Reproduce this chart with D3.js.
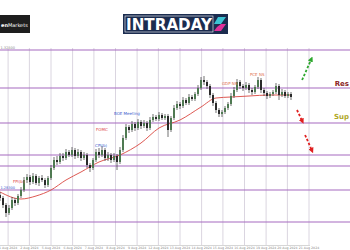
<!DOCTYPE html>
<html lang="en">
<head>
  <meta charset="UTF-8">
  <title>Intraday GBP/USD</title>
  <script src="https://d3js.org/d3.v7.min.js"></script>
  <style>
    html, body { margin: 0; padding: 0; background: #fff; }
    svg { display: block; font-family: "DejaVu Sans", sans-serif; }
  </style>
</head>
<body>
  <div id="chart"></div>

  <script>
    // candles: [open, high, low, close]
    const candles = [
      [1.2815,1.2824,1.2797,1.2806],[1.2806,1.2812,1.2776,1.2785],[1.2785,1.2791,1.2749,1.2761],[1.2761,1.2785,1.2755,1.2776],
      [1.2776,1.2809,1.2770,1.2800],[1.2800,1.2806,1.2782,1.2791],[1.2791,1.2818,1.2785,1.2812],[1.2812,1.2839,1.2806,1.2830],
      [1.2830,1.2869,1.2824,1.2860],[1.2860,1.2878,1.2851,1.2869],[1.2869,1.2875,1.2845,1.2854],[1.2854,1.2881,1.2848,1.2872],
      [1.2872,1.2878,1.2845,1.2851],[1.2851,1.2872,1.2842,1.2866],[1.2866,1.2875,1.2854,1.2860],[1.2860,1.2866,1.2836,1.2845],
      [1.2845,1.2872,1.2839,1.2866],[1.2866,1.2905,1.2860,1.2896],[1.2896,1.2929,1.2890,1.2920],[1.2920,1.2932,1.2905,1.2914],
      [1.2914,1.2941,1.2908,1.2932],[1.2932,1.2941,1.2917,1.2926],[1.2926,1.2953,1.2920,1.2944],[1.2944,1.2950,1.2929,1.2935],
      [1.2935,1.2959,1.2929,1.2950],[1.2950,1.2956,1.2923,1.2932],[1.2932,1.2953,1.2926,1.2944],[1.2944,1.2950,1.2917,1.2926],
      [1.2926,1.2944,1.2920,1.2935],[1.2935,1.2941,1.2896,1.2905],[1.2905,1.2911,1.2884,1.2896],[1.2896,1.2926,1.2890,1.2920],
      [1.2920,1.2953,1.2914,1.2944],[1.2944,1.2956,1.2926,1.2935],[1.2935,1.2962,1.2929,1.2950],[1.2950,1.2956,1.2917,1.2926],
      [1.2926,1.2944,1.2917,1.2935],[1.2935,1.2941,1.2911,1.2920],[1.2920,1.2941,1.2914,1.2932],[1.2932,1.2938,1.2890,1.2914],
      [1.2914,1.2959,1.2908,1.2950],[1.2950,1.2995,1.2944,1.2986],[1.2986,1.3028,1.2980,1.3019],[1.3019,1.3025,1.3001,1.3010],
      [1.3010,1.3037,1.3004,1.3028],[1.3028,1.3034,1.3007,1.3016],[1.3016,1.3043,1.3010,1.3034],[1.3034,1.3040,1.3013,1.3022],
      [1.3022,1.3040,1.3016,1.3031],[1.3031,1.3037,1.3007,1.3016],[1.3016,1.3049,1.3010,1.3040],[1.3040,1.3058,1.3034,1.3049],
      [1.3049,1.3055,1.3037,1.3043],[1.3043,1.3064,1.3037,1.3055],[1.3055,1.3061,1.3040,1.3046],[1.3046,1.3058,1.3040,1.3052],
      [1.3052,1.3058,1.2989,1.3010],[1.3010,1.3052,1.3004,1.3046],[1.3046,1.3085,1.3040,1.3076],[1.3076,1.3097,1.3070,1.3088],
      [1.3088,1.3094,1.3073,1.3082],[1.3082,1.3109,1.3076,1.3100],[1.3100,1.3106,1.3085,1.3091],[1.3091,1.3118,1.3085,1.3109],
      [1.3109,1.3115,1.3097,1.3103],[1.3103,1.3124,1.3097,1.3118],[1.3118,1.3145,1.3112,1.3136],[1.3136,1.3169,1.3130,1.3160],
      [1.3160,1.3172,1.3145,1.3154],[1.3154,1.3160,1.3133,1.3142],[1.3142,1.3148,1.3106,1.3115],[1.3115,1.3121,1.3082,1.3091],
      [1.3091,1.3097,1.3061,1.3070],[1.3070,1.3076,1.3049,1.3058],[1.3058,1.3070,1.3049,1.3064],[1.3064,1.3082,1.3058,1.3076],
      [1.3076,1.3094,1.3070,1.3088],[1.3088,1.3121,1.3082,1.3112],[1.3112,1.3139,1.3106,1.3130],[1.3130,1.3163,1.3124,1.3154],
      [1.3154,1.3160,1.3133,1.3142],[1.3142,1.3148,1.3127,1.3136],[1.3136,1.3154,1.3130,1.3145],[1.3145,1.3151,1.3121,1.3130],
      [1.3130,1.3136,1.3115,1.3124],[1.3124,1.3145,1.3118,1.3139],[1.3139,1.3169,1.3133,1.3160],[1.3160,1.3166,1.3121,1.3130],
      [1.3130,1.3136,1.3112,1.3121],[1.3121,1.3127,1.3103,1.3112],[1.3112,1.3124,1.3106,1.3118],[1.3118,1.3130,1.3112,1.3124],
      [1.3124,1.3151,1.3118,1.3142],[1.3142,1.3148,1.3100,1.3115],[1.3115,1.3133,1.3109,1.3124],[1.3124,1.3130,1.3106,1.3112],
      [1.3112,1.3124,1.3106,1.3118],[1.3118,1.3124,1.3100,1.3109]
    ];

    // moving average: [candle index, price]
    const maPoints = [
      [0,1.2824],[7,1.2803],[12,1.2812],[17,1.2830],[22,1.2860],[27,1.2884],[33,1.2914],[40,1.2935],
      [47,1.2971],[53,1.3016],[60,1.3040],[67,1.3079],[72,1.3106],[77,1.3109],[83,1.3112],[90,1.3115],[97,1.3115]
    ];

    const levels = [1.3250, 1.3136, 1.3031, 1.2935, 1.2902, 1.2830, 1.2734];
    const levelLabels = [{ price: 1.3250, text: "1.32500", color: "#888" }, { price: 1.2830, text: "1.28300", color: "#3355cc" }];

    const dayTicks = [2.7, 9.8, 17, 24.2, 31.3, 38.5, 45.7, 52.8, 60, 67.2, 74.3, 81.5, 88.7, 95.8, 103];
    const dayLabels = ["1 Aug 2024", "2 Aug 2024", "5 Aug 2024", "6 Aug 2024", "7 Aug 2024", "8 Aug 2024", "9 Aug 2024",
      "12 Aug 2024", "13 Aug 2024", "14 Aug 2024", "15 Aug 2024", "16 Aug 2024", "19 Aug 2024", "20 Aug 2024", "21 Aug 2024"];

    const events = [
      { idx: 4.3, price: 1.2851, text: "FPI(b)", color: "#e04848" },
      { idx: 31.7, price: 1.2959, text: "CPI(b)", color: "#3a5ccc" },
      { idx: 32, price: 1.3007, text: "FOMC", color: "#e04848" },
      { idx: 38, price: 1.3055, text: "BOE Meeting", color: "#3a5ccc" },
      { idx: 74, price: 1.3145, text: "GDP NS", color: "#e07050" },
      { idx: 83.3, price: 1.3172, text: "PCE NS", color: "#e07050" }
    ];

    // scenario arrows: [from idx, from price, to idx, to price]
    const arrows = [
      { from: [100.7, 1.3160], to: [103.8, 1.3223], color: "#2ea82e" },
      { from: [99, 1.3070], to: [100.8, 1.3036], color: "#e02020" },
      { from: [101.7, 1.2995], to: [104, 1.2948], color: "#e02020" }
    ];

    const zoneLabels = [
      { text: "Res", price: 1.3142, color: "#8b1e1e" },
      { text: "Sup", price: 1.3043, color: "#b0a828" }
    ];

    const width = 350, height = 250;
    const x = d3.scaleLinear().domain([0, 97]).range([0, 291]);
    const y = d3.scaleLinear().domain([1.34, 1.265]).range([0, 250]);

    const svg = d3.select("#chart").append("svg")
      .attr("width", width)
      .attr("height", height);

    // logos
    const left = svg.append("g");
    left.append("rect").attr("x", 0).attr("y", 15).attr("width", 30).attr("height", 18).attr("fill", "#1e1e1e");
    left.append("text").attr("x", 1).attr("y", 26.5).attr("font-size", 5).attr("fill", "#fff")
      .html('<tspan font-weight="bold">en</tspan>Markets');

    const logo = svg.append("g");
    logo.append("rect").attr("x", 123).attr("y", 14).attr("width", 105).attr("height", 20).attr("fill", "#1b2c4f");
    logo.append("rect").attr("x", 125).attr("y", 16).attr("width", 88).attr("height", 16)
      .attr("fill", "none").attr("stroke", "#fff").attr("stroke-width", 0.6);
    logo.append("text").attr("x", 126).attr("y", 29.5).attr("font-size", 16).attr("font-weight", "bold")
      .attr("fill", "#fff").attr("textLength", 86).attr("lengthAdjust", "spacingAndGlyphs").text("INTRADAY");
    logo.append("path").attr("d", "M218,17 L226,17 L221,24 L214,24 Z").attr("fill", "#3cc3d3");
    logo.append("path").attr("d", "M221,24 L226,24 L221,31 L214,31 L217,27 Z").attr("fill", "#e0309a");

    // vertical day grid
    svg.append("g").selectAll("line").data(dayTicks).join("line")
      .attr("x1", d => x(d)).attr("x2", d => x(d))
      .attr("y1", 48).attr("y2", 245)
      .attr("stroke", "#d0cad8").attr("stroke-width", 0.8);

    svg.append("line").attr("x1", 0).attr("x2", 310).attr("y1", 245.5).attr("y2", 245.5)
      .attr("stroke", "#bbb").attr("stroke-width", 0.6);

    svg.append("g").selectAll("text").data(dayTicks).join("text")
      .attr("x", d => x(d)).attr("y", 248.5)
      .attr("text-anchor", "middle").attr("font-size", 3.2).attr("fill", "#8a8a8a")
      .text((d, i) => dayLabels[i]);

    // horizontal levels
    svg.append("g").selectAll("line").data(levels).join("line")
      .attr("x1", 0).attr("x2", width)
      .attr("y1", d => y(d)).attr("y2", d => y(d))
      .attr("stroke", "#a56ac0").attr("stroke-width", 1.1);

    svg.append("g").selectAll("text").data(levelLabels).join("text")
      .attr("x", 0.5).attr("y", d => y(d.price) - 1)
      .attr("font-size", 3.5).attr("fill", d => d.color).text(d => d.text);

    // moving average
    svg.append("path").datum(maPoints)
      .attr("fill", "none").attr("stroke", "#d9463f").attr("stroke-width", 0.9)
      .attr("d", d3.line().x(d => x(d[0])).y(d => y(d[1])).curve(d3.curveMonotoneX));

    // candles
    const c = svg.append("g").selectAll("g").data(candles).join("g");
    c.append("line")
      .attr("x1", (d, i) => x(i)).attr("x2", (d, i) => x(i))
      .attr("y1", d => y(d[1])).attr("y2", d => y(d[2]))
      .attr("stroke", "#333").attr("stroke-width", 0.7);
    c.append("rect")
      .attr("x", (d, i) => x(i) - 1).attr("width", 2)
      .attr("y", d => y(Math.max(d[0], d[3])))
      .attr("height", d => Math.max(0.6, Math.abs(y(d[0]) - y(d[3]))))
      .attr("fill", d => d[3] >= d[0] ? "#4f7a52" : "#2a2a2a");

    // event notes
    svg.append("g").selectAll("text").data(events).join("text")
      .attr("x", d => x(d.idx)).attr("y", d => y(d.price))
      .attr("font-size", 4).attr("fill", d => d.color).text(d => d.text);

    // arrows
    const defs = svg.append("defs");
    arrows.forEach((a, i) => {
      defs.append("marker").attr("id", "ah" + i)
        .attr("viewBox", "0 0 10 10").attr("refX", 5).attr("refY", 5)
        .attr("markerWidth", 3).attr("markerHeight", 3).attr("orient", "auto")
        .append("path").attr("d", "M0,0 L10,5 L0,10 Z").attr("fill", a.color);
    });
    svg.append("g").selectAll("line").data(arrows).join("line")
      .attr("x1", d => x(d.from[0])).attr("y1", d => y(d.from[1]))
      .attr("x2", d => x(d.to[0])).attr("y2", d => y(d.to[1]))
      .attr("stroke", d => d.color).attr("stroke-width", 1.8)
      .attr("stroke-dasharray", "2.5,1.8")
      .attr("marker-end", (d, i) => "url(#ah" + i + ")");

    svg.append("g").selectAll("text").data(zoneLabels).join("text")
      .attr("x", 349).attr("y", d => y(d.price))
      .attr("text-anchor", "end")
      .attr("font-size", 7).attr("font-weight", "bold").attr("fill", d => d.color)
      .text(d => d.text);
  </script>
</body>
</html>
